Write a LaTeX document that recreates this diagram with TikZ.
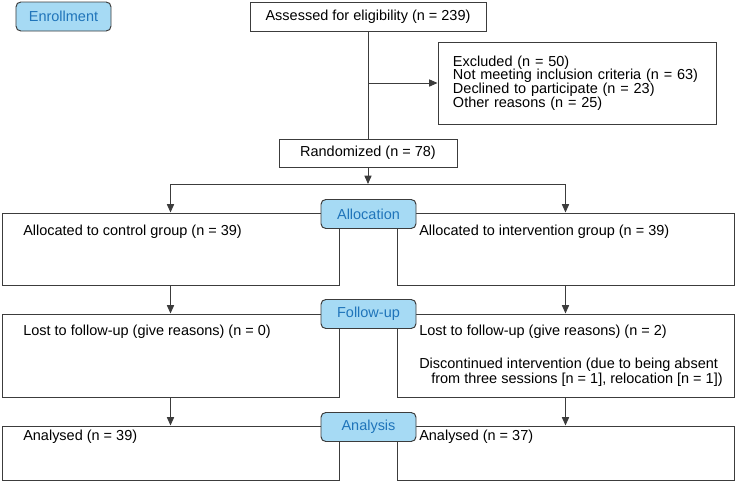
\documentclass[tikz,border=0pt]{standalone}
\usepackage{fontspec}
\setmainfont{Liberation Sans}
\usepackage{tikz}
\usetikzlibrary{arrows.meta,positioning}
\definecolor{linec}{HTML}{3C3C3C}
\definecolor{stagec}{HTML}{A6DAF4}
\definecolor{stagetx}{HTML}{1F74BA}
\newcommand{\flowfont}{\fontsize{10.3}{10.7}\selectfont}
\tikzset{
  >={Triangle[length=2.1mm,width=1.8mm]},
  box/.style={draw=linec,line width=0.7pt,fill=white,inner sep=0pt,font=\flowfont},
  armbox/.style={box,minimum width=84.25mm},
  stage/.style={draw=linec,line width=0.7pt,fill=stagec,rounded corners=1.2mm,minimum width=23.75mm,minimum height=7.25mm,inner sep=0pt,text=stagetx,font=\flowfont},
  tx/.style={anchor=west,inner sep=0pt,font=\flowfont},
  flow/.style={->,draw=linec,line width=0.7pt},
}
\begin{document}
\begin{tikzpicture}[x=0.25mm,y=-0.25mm]
  \useasboundingbox (0,0) rectangle (735,481);
  % enrollment
  \node[stage] (enrol) at (63.5,16.5) {Enrollment};
  \node[box,minimum width=59mm,minimum height=7.25mm] (assess) at (368,16.5) {Assessed for eligibility (n = 239)};
  \node[box,minimum width=69.5mm,minimum height=20.5mm,inner xsep=3.75mm,text width=62mm,align=left,font=\fontsize{10.3}{9.8}\selectfont] (excl) at (577,83) {Excluded (n = 50)\\Not meeting inclusion criteria (n = 63)\\Declined to participate (n = 23)\\Other reasons (n = 25)};
  \node[box,minimum width=44.5mm,minimum height=7mm] (rand) at (368,153) {Randomized (n = 78)};
  \draw[linec,line width=0.7pt] (assess.south) -- (rand.north);
  \draw[flow] (assess.south |- excl.west) -- (excl.west);
  % arms
  \node[armbox,minimum height=18mm] (ctl) at (170.5,249) {};
  \node[armbox,minimum height=18mm] (int) at (565.5,249) {};
  \node[armbox,minimum height=20.75mm] (ctlfu) at (170.5,355.5) {};
  \node[armbox,minimum height=20.75mm] (intfu) at (565.5,355.5) {};
  \node[armbox,minimum height=13.5mm] (ctlan) at (170.5,453) {};
  \node[armbox,minimum height=13.5mm] (intan) at (565.5,453) {};
  \coordinate (split) at (368,184);
  \draw[flow] (rand.south) -- (split);
  \draw[linec,line width=0.7pt] (ctl.north |- split) -- (int.north |- split);
  \foreach \b in {ctl,int} \draw[flow] (\b.north |- split) -- (\b.north);
  \foreach \a/\b in {ctl/ctlfu,int/intfu,ctlfu/ctlan,intfu/intan} \draw[flow] (\a.south) -- (\b.north);
  % texts
  \node[tx] (ctltx) at (23,232) {Allocated to control group (n = 39)};
  \node[tx] (inttx) at (419,232) {Allocated to intervention group (n = 39)};
  \node[tx] (ctlfutx) at (23,332) {Lost to follow-up (give reasons) (n = 0)};
  \node[tx] (intfutx) at (419,332) {Lost to follow-up (give reasons) (n = 2)};
  \node[tx] (disctx) at (419,365) {Discontinued intervention (due to being absent};
  \node[tx] (disctx2) at (431,380) {from three sessions [n = 1], relocation [n = 1])};
  \node[tx] (ctlantx) at (23,437) {Analysed (n = 39)};
  \node[tx] (intantx) at (419,437) {Analysed (n = 37)};
  % stage labels
  \node[stage] (alloc) at (368.5,214) {Allocation};
  \node[stage] (fu) at (368.5,314) {Follow-up};
  \node[stage] (an) at (368.5,427) {Analysis};
\end{tikzpicture}
\end{document}
